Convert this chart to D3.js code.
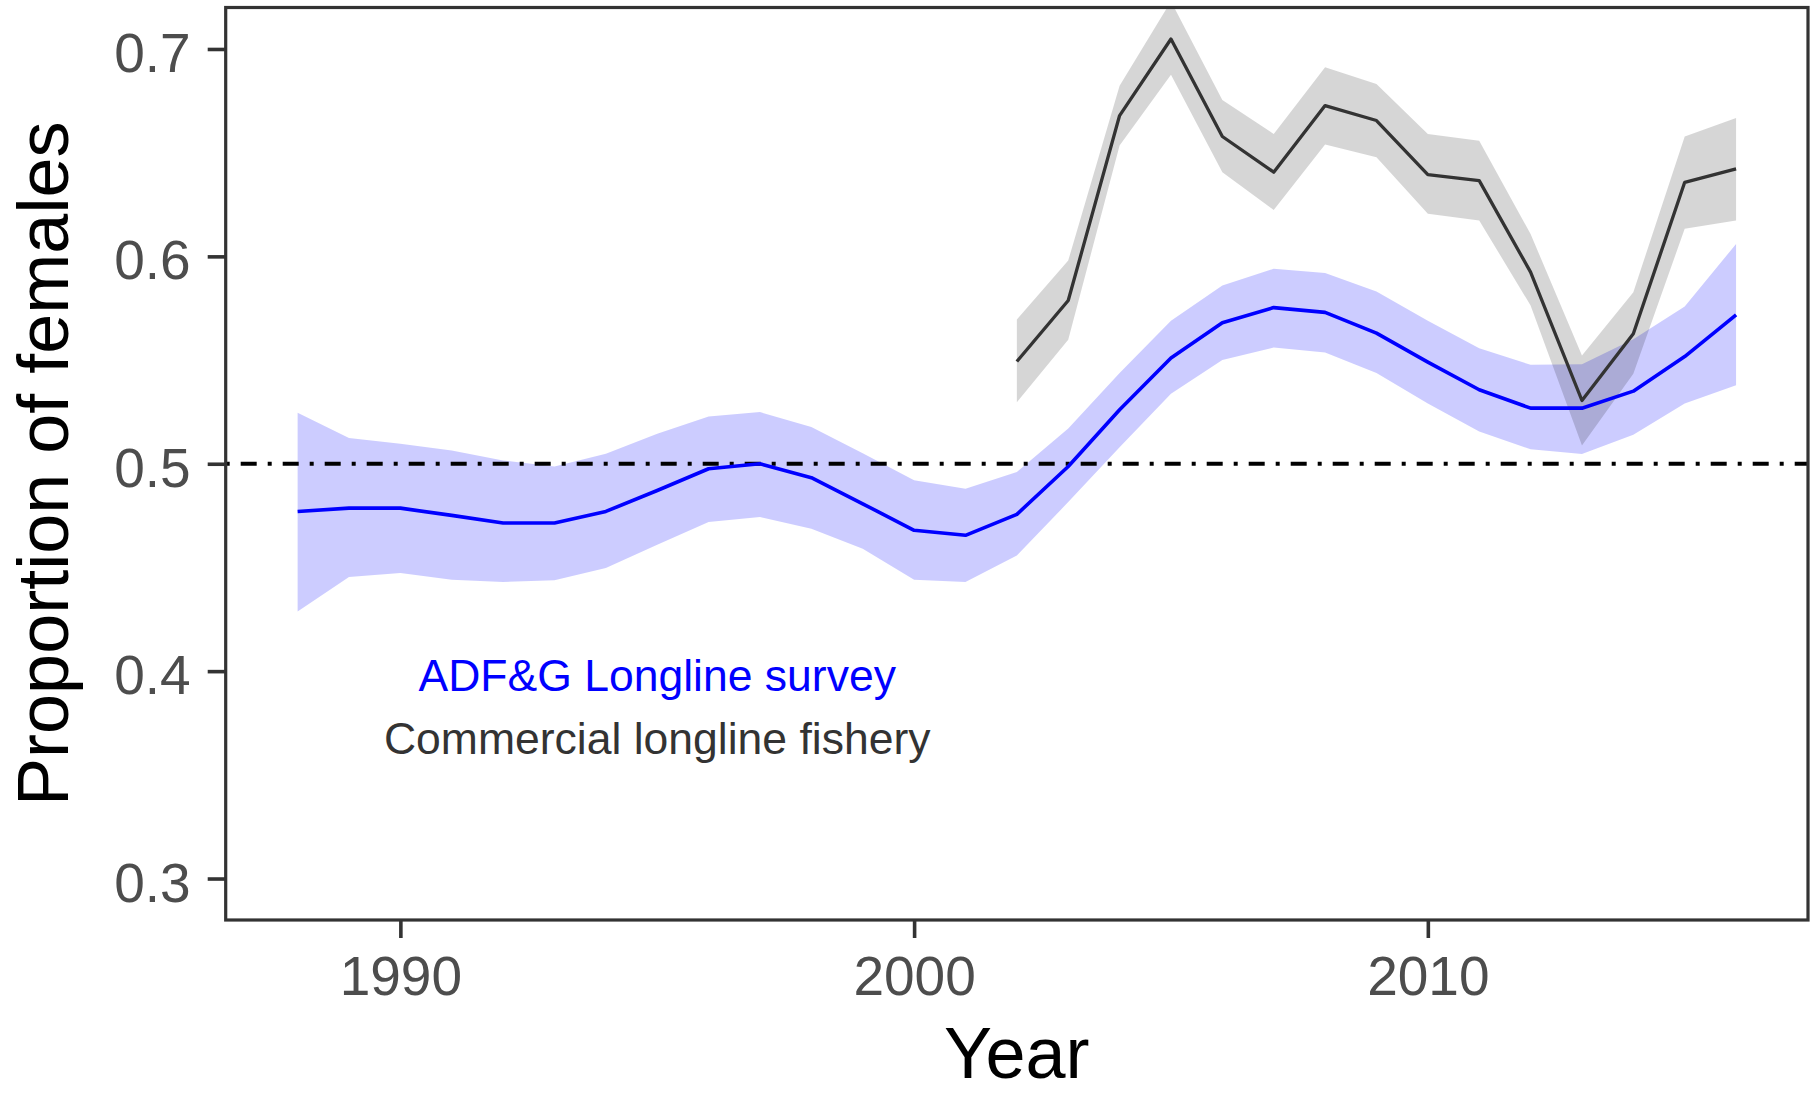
<!DOCTYPE html>
<html>
<head>
<meta charset="utf-8">
<script src="https://cdn.jsdelivr.net/npm/d3@7"></script>
<style>
  html, body { margin: 0; padding: 0; background: #fff; }
  svg { display: block; }
  text { font-family: "Liberation Sans", Arial, "DejaVu Sans", sans-serif; }
</style>
</head>
<body>
<svg id="chart" width="1815" height="1093"></svg>
<script>
// ---------------- data ----------------
const surveyYears = [1988,1989,1990,1991,1992,1993,1994,1995,1996,1997,1998,1999,2000,2001,2002,
                     2003,2004,2005,2006,2007,2008,2009,2010,2011,2012,2013,2014,2015,2016];
const surveyMean  = [0.477,0.4786,0.4786,0.4751,0.4714,0.4714,0.477,0.4871,0.4976,0.500,0.4933,0.4807,0.4679,0.4655,0.4756,
                     0.4987,0.526,0.551,0.568,0.5753,0.573,0.563,0.549,0.5357,0.5268,0.5268,0.535,0.5517,0.5718];
const surveyUpper = [0.5246,0.5124,0.5096,0.5064,0.5016,0.4987,0.5048,0.5145,0.5228,0.5249,0.5177,0.5051,0.492,0.488,0.496,
                     0.517,0.5437,0.569,0.586,0.594,0.592,0.583,0.569,0.5557,0.5477,0.548,0.560,0.5758,0.606];
const surveyLower = [0.4288,0.4454,0.4473,0.4441,0.443,0.4438,0.4497,0.461,0.4719,0.4743,0.4687,0.459,0.4441,0.443,0.4558,
                     0.4815,0.508,0.5337,0.550,0.556,0.5537,0.5437,0.529,0.5156,0.507,0.5047,0.514,0.529,0.5378];

const fisheryYears = [2002,2003,2004,2005,2006,2007,2008,2009,2010,2011,2012,2013,2014,2015,2016];
const fisheryMean  = [0.5493,0.5787,0.6679,0.7048,0.6578,0.6406,0.6727,0.6655,0.6394,0.6365,0.5924,0.5305,0.5627,0.6357,0.6422];
const fisheryUpper = [0.5696,0.598,0.6823,0.723,0.6754,0.659,0.6912,0.6831,0.659,0.6558,0.6108,0.5522,0.5827,0.6578,0.6667];
const fisheryLower = [0.5297,0.5598,0.6534,0.6876,0.6406,0.6224,0.6539,0.6478,0.6205,0.6173,0.5763,0.5088,0.5434,0.6133,0.6173];

const xTicks = [1990, 2000, 2010];
const yTicks = [0.3, 0.4, 0.5, 0.6, 0.7];
const refLine = 0.5;

const labels = [
  { text: "ADF&G Longline survey",        year: 1995, value: 0.3903, color: "#0000FF" },
  { text: "Commercial longline fishery",  year: 1995, value: 0.3601, color: "#333333" }
];
const xTitle = "Year";
const yTitle = "Proportion of females";

// ---------------- layout ----------------
const panel = { left: 225.7, right: 1808, top: 7.5, bottom: 920 };
const svg = d3.select("#chart");

const x = d3.scaleLinear().domain([1986.6, 2017.4]).range([panel.left, panel.right]);
const y = d3.scaleLinear().domain([0.28, 0.72]).range([panel.bottom, panel.top]);

svg.append("defs").append("clipPath").attr("id", "clip")
  .append("rect")
  .attr("x", panel.left).attr("y", panel.top)
  .attr("width", panel.right - panel.left).attr("height", panel.bottom - panel.top);

const plot = svg.append("g").attr("clip-path", "url(#clip)");

const survey = surveyYears.map((yr, i) => ({ yr, m: surveyMean[i], lo: surveyLower[i], hi: surveyUpper[i] }));
const fishery = fisheryYears.map((yr, i) => ({ yr, m: fisheryMean[i], lo: fisheryLower[i], hi: fisheryUpper[i] }));

const area = d3.area().x(d => x(d.yr)).y0(d => y(d.lo)).y1(d => y(d.hi));
const line = d3.line().x(d => x(d.yr)).y(d => y(d.m));

plot.append("path").datum(survey).attr("d", area)
  .attr("fill", "#0000FF").attr("fill-opacity", 0.2);
plot.append("path").datum(fishery).attr("d", area)
  .attr("fill", "#000000").attr("fill-opacity", 0.16);

plot.append("line")
  .attr("x1", panel.left).attr("x2", panel.right)
  .attr("y1", y(refLine)).attr("y2", y(refLine))
  .attr("stroke", "#000").attr("stroke-width", 4)
  .attr("stroke-dasharray", "4 11 16 11");

plot.append("path").datum(survey).attr("d", line)
  .attr("fill", "none").attr("stroke", "#0000FF").attr("stroke-width", 3.6)
  .attr("stroke-linejoin", "round");
plot.append("path").datum(fishery).attr("d", line)
  .attr("fill", "none").attr("stroke", "#333333").attr("stroke-width", 3.3)
  .attr("stroke-linejoin", "round");

// annotations
svg.selectAll("text.ann").data(labels).join("text")
  .attr("class", "ann")
  .attr("x", d => x(d.year)).attr("y", d => y(d.value))
  .attr("text-anchor", "middle")
  .attr("font-size", 44.5)
  .attr("fill", d => d.color)
  .text(d => d.text);

// panel border
svg.append("rect")
  .attr("x", panel.left).attr("y", panel.top)
  .attr("width", panel.right - panel.left).attr("height", panel.bottom - panel.top)
  .attr("fill", "none").attr("stroke", "#333333").attr("stroke-width", 3.2);

// axes
const xAxis = d3.axisBottom(x).tickValues(xTicks).tickFormat(d3.format("d"))
  .tickSize(18).tickPadding(38);
const gx = svg.append("g").attr("transform", `translate(0,${panel.bottom})`).call(xAxis);
gx.select(".domain").remove();
gx.selectAll(".tick line").attr("stroke", "#333333").attr("stroke-width", 3.6);
gx.selectAll(".tick text").attr("font-size", 55).attr("fill", "#4D4D4D")
  .attr("font-family", '"Liberation Sans", Arial, sans-serif')
  .attr("dy", null).attr("y", 75);

const yAxis = d3.axisLeft(y).tickValues(yTicks).tickFormat(d3.format(".1f"))
  .tickSize(18).tickPadding(16);
const gy = svg.append("g").attr("transform", `translate(${panel.left},0)`).call(yAxis);
gy.select(".domain").remove();
gy.selectAll(".tick line").attr("stroke", "#333333").attr("stroke-width", 3.6);
gy.selectAll(".tick text").attr("font-size", 55).attr("fill", "#4D4D4D")
  .attr("font-family", '"Liberation Sans", Arial, sans-serif')
  .attr("dy", "0.41em").attr("x", -35);

// titles
svg.append("text")
  .attr("x", (panel.left + panel.right) / 2).attr("y", 1078)
  .attr("text-anchor", "middle").attr("font-size", 72).attr("fill", "#000")
  .text(xTitle);

svg.append("text")
  .attr("transform", `translate(68,${(panel.top + panel.bottom) / 2}) rotate(-90)`)
  .attr("text-anchor", "middle").attr("font-size", 72).attr("fill", "#000")
  .text(yTitle);
</script>
</body>
</html>
